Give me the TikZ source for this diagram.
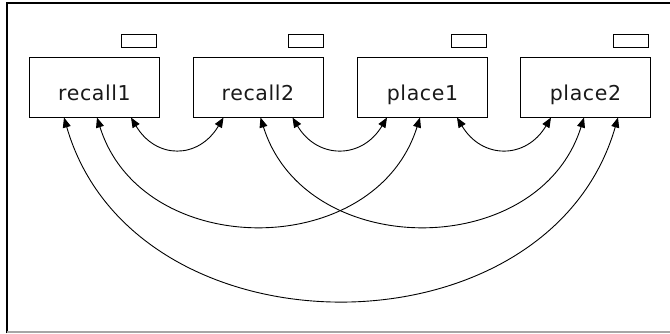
\documentclass[tikz,border=0pt]{standalone}
\usepackage{fontspec}
\newfontfamily\boxfont[LetterSpace=3]{DejaVu Sans}
\usetikzlibrary{arrows.meta}
\tikzset{
  x=1pt, y=1pt,
  varbox/.style={draw=black, line width=1pt, minimum width=130pt, minimum height=60pt, inner sep=0pt},
  errbox/.style={draw=black, line width=1pt, minimum width=35pt, minimum height=13pt, inner sep=0pt},
  lbl/.style={anchor=base, inner sep=0pt, font=\boxfont\fontsize{20.5}{23}\selectfont, text=black!90},
  cov/.style={line width=0.9pt, {Triangle[length=10pt,width=8pt]}-{Triangle[length=10pt,width=8pt]}},
}
\begin{document}
\begin{tikzpicture}
\useasboundingbox (0,0) rectangle (670,-333);
% frame
\draw[line width=1.6pt, black] (7,-333) -- (7,-3) -- (670,-3);
\draw[line width=1.2pt, black!35] (7,-332) -- (670,-332);
% variable boxes
\node[varbox] (r1) at (94.5,-87) {};
\node[varbox] (r2) at (258,-87) {};
\node[varbox] (p1) at (422.5,-87) {};
\node[varbox] (p2) at (585.5,-87) {};
% labels
\node[lbl] (r1t) at (94.5,-100) {recall1};
\node[lbl] (r2t) at (258,-100) {recall2};
\node[lbl] (p1t) at (422.5,-100) {place1};
\node[lbl] (p2t) at (585.5,-100) {place2};
% small rectangles
\node[errbox] (r1e) at (138.5,-40.5) {};
\node[errbox] (r2e) at (306,-40.5) {};
\node[errbox] (p1e) at (469,-40.5) {};
\node[errbox] (p2e) at (630.5,-40.5) {};
% connection points on the box bottoms
\coordinate (r1a) at ([xshift=35pt]r1.south west);
\coordinate (r1b) at ([xshift=68pt]r1.south west);
\coordinate (r1c) at ([xshift=102pt]r1.south west);
\coordinate (r2a) at ([xshift=31pt]r2.south west);
\coordinate (r2b) at ([xshift=68pt]r2.south west);
\coordinate (r2c) at ([xshift=100pt]r2.south west);
\coordinate (p1a) at ([xshift=30pt]p1.south west);
\coordinate (p1b) at ([xshift=63pt]p1.south west);
\coordinate (p1c) at ([xshift=100pt]p1.south west);
\coordinate (p2a) at ([xshift=31pt]p2.south west);
\coordinate (p2b) at ([xshift=64pt]p2.south west);
\coordinate (p2c) at ([xshift=98pt]p2.south west);
% small arcs
\draw[cov] (r1c) .. controls +(25,-42) and +(-25,-42) .. (r2a);
\draw[cov] (r2c) .. controls +(25,-42) and +(-25,-42) .. (p1a);
\draw[cov] (p1c) .. controls +(25,-42) and +(-25,-42) .. (p2a);
% medium arcs
\draw[cov] (r1b) .. controls +(45,-144) and +(-45,-144) .. (p1b);
\draw[cov] (r2b) .. controls +(45,-144) and +(-45,-144) .. (p2b);
% large arc
\draw[cov] (r1a) .. controls +(70,-243) and +(-70,-243) .. (p2c);
\end{tikzpicture}
\end{document}
